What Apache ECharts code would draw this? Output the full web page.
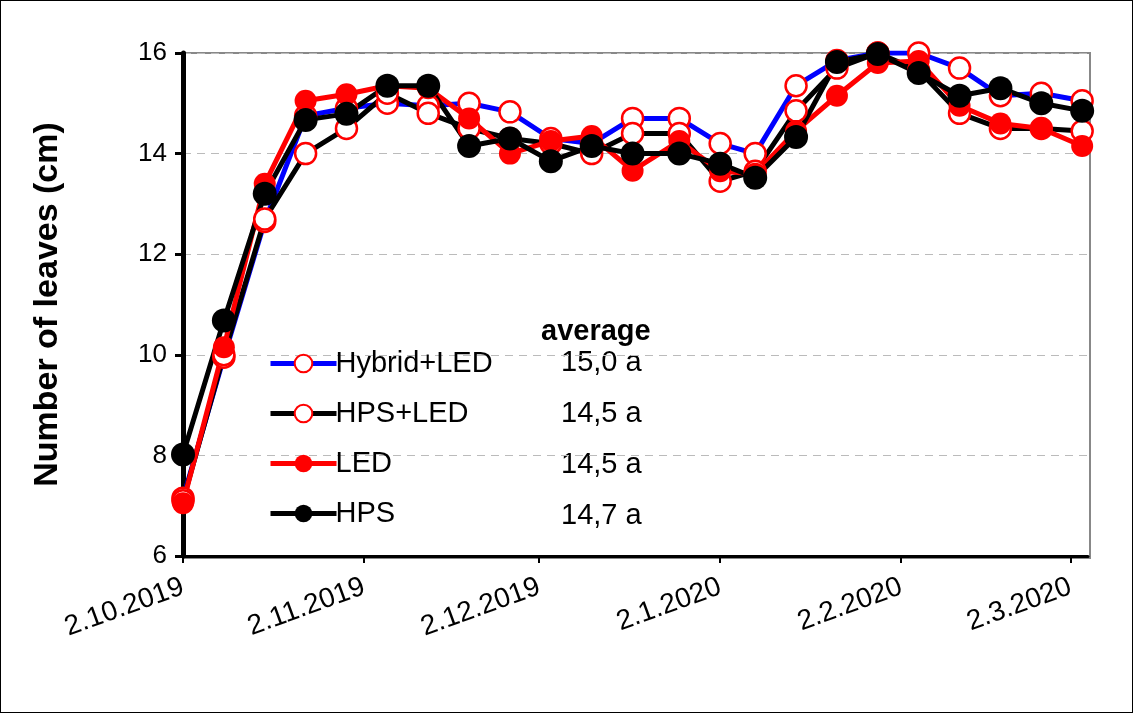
<!DOCTYPE html>
<html><head><meta charset="utf-8">
<script src="https://cdn.jsdelivr.net/npm/echarts@6/dist/echarts.min.js"></script>
<style>html,body{margin:0;padding:0;background:#fff}#c{width:1133px;height:713px;box-sizing:border-box;border:1px solid #000}</style>
</head><body><div id="c"></div>
<script>
// days since 2.10.2019
const days = [0,7,14,21,28,35,42,49,56,63,70,77,85,92,98,105,112,119,126,133,140,147,154]
const hybridLed = [7.15,9.95,12.65,14.75,14.9,15.0,14.95,15.0,14.83,14.3,14.2,14.7,14.7,14.2,14.0,15.35,15.85,16.0,16.0,15.7,15.15,15.2,15.05]
const hpsLed = [7.1,10.0,12.7,14.0,14.5,15.2,14.8,14.5,14.3,14.2,14.0,14.4,14.4,13.45,13.65,14.85,15.7,16.0,15.65,14.8,14.5,14.5,14.45]
const led = [7.05,10.15,13.4,15.05,15.18,15.35,15.3,14.7,14.0,14.25,14.35,13.66,14.25,13.65,13.6,14.45,15.15,15.8,15.84,14.95,14.6,14.5,14.15]
const hps = [8.02,10.68,13.2,14.67,14.79,15.35,15.35,14.15,14.3,13.85,14.15,14.0,14.0,13.8,13.52,14.33,15.82,15.98,15.6,15.15,15.3,15.0,14.85]
const tickDays = [0,31,61,92,123,152]
const tickLabels = ['2.10.2019','2.11.2019','2.12.2019','2.1.2020','2.2.2020','2.3.2020']
const names = ['Hybrid+LED','HPS+LED','LED','HPS']
const averages = ['15,0 a','14,5 a','14,5 a','14,7 a']

const pts = arr => arr.map((v,i)=>[days[i],v])
const font = 'Arial, "Liberation Sans", sans-serif'
function mk(name, data, lineColor, open, size){
  return {name, type:'line', data:pts(data), symbol:'circle', symbolSize:size,
    lineStyle:{color:lineColor,width:5},
    itemStyle: open ? {color:'#fff',borderColor:'#ff0000',borderWidth:2.5} : {color:lineColor==='#0000ff'?'#ff0000':lineColor,borderWidth:0},
    emphasis:{disabled:true}}
}
const chart = echarts.init(document.getElementById('c'))
chart.setOption({
  animation:false,
  grid:{left:182,top:52,right:44,bottom:156},
  xAxis:{type:'value',min:0,max:155,
    axisLine:{lineStyle:{color:'#000',width:3}},
    splitLine:{show:false},
    axisTick:{customValues:tickDays,length:7,lineStyle:{color:'#000',width:2}},
    axisLabel:{customValues:tickDays,rotate:20,fontSize:28,color:'#000',fontFamily:font,margin:30,
      formatter:v=>tickLabels[tickDays.indexOf(v)]}},
  yAxis:{type:'value',min:6,max:16,interval:2,
    name:'Number of leaves (cm)',nameLocation:'middle',nameGap:118,
    nameTextStyle:{fontSize:34,fontWeight:'bold',color:'#000',fontFamily:font},
    axisLine:{show:true,lineStyle:{color:'#000',width:5}},
    axisTick:{show:true,length:8,lineStyle:{color:'#000',width:3}},
    axisLabel:{fontSize:26,color:'#000',fontFamily:font,margin:16},
    splitLine:{lineStyle:{color:'#bbb',type:[8,6],width:1}}},
  legend:{data:names,orient:'vertical',left:262,top:343,itemGap:21,itemWidth:66,itemHeight:22,
    lineStyle:{width:5},
    textStyle:{fontSize:29,color:'#000',fontFamily:font,padding:[0,0,0,-6]}},
  graphic:[
    {type:'rect',shape:{x:182,y:52,width:907,height:505},style:{fill:'none',stroke:'#888',lineWidth:2},silent:true,z:-1},
    {type:'text',x:540,y:331,style:{text:'average',font:'bold 29px '+font,fill:'#000',verticalAlign:'middle'}},
    ...averages.map((t,i)=>({type:'text',x:560,y:362+i*51,style:{text:t,font:'29px '+font,fill:'#000',verticalAlign:'middle'}}))
  ],
  series:[
    mk('Hybrid+LED',hybridLed,'#0000ff',true,21),
    mk('HPS+LED',hpsLed,'#000',true,21),
    mk('LED',led,'#ff0000',false,22),
    mk('HPS',hps,'#000',false,24)
  ]
})
</script></body></html>
